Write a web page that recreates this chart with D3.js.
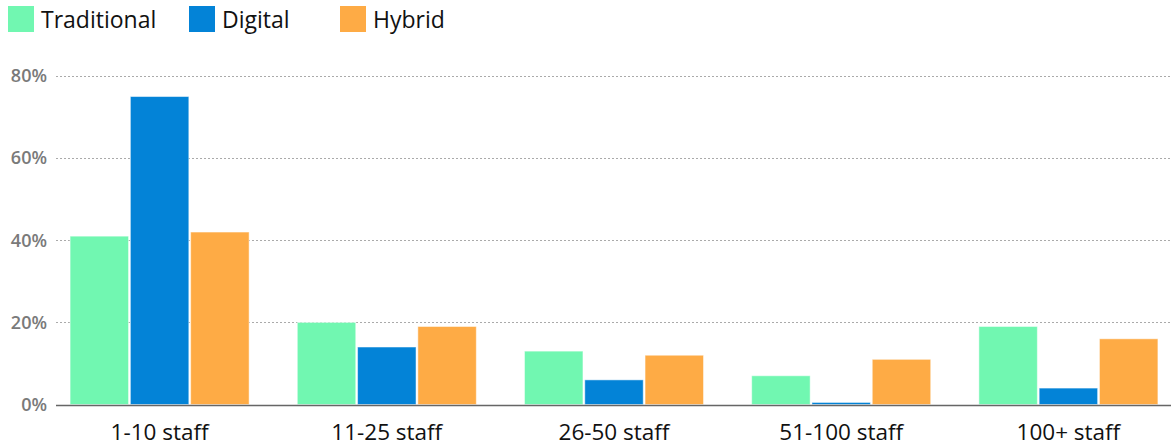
<!DOCTYPE html>
<html>
<head>
<meta charset="utf-8">
<script src="https://cdn.jsdelivr.net/npm/d3@7"></script>
<style>
  body { margin: 0; background: #fff; }
  svg { display: block; font-family: "Open Sans", Lato, sans-serif; }
</style>
</head>
<body>
<div id="chart"></div>
<script>
const categories = ["1-10 staff", "11-25 staff", "26-50 staff", "51-100 staff", "100+ staff"];
const seriesNames = ["Traditional", "Digital", "Hybrid"];
const traditional = [41, 20, 13, 7, 19];
const digital = [75, 14, 6, 0.5, 4];
const hybrid = [42, 19, 12, 11, 16];
const yTicks = [0, 20, 40, 60, 80];
const colors = ["#71f7b1", "#0383d7", "#feab45"];

const width = 1171, height = 447;
const margin = {top: 76, left: 56, bottom: 42, right: -1};

const series = [traditional, digital, hybrid];

const svg = d3.select("#chart").append("svg")
    .attr("width", width)
    .attr("height", height);

const y = d3.scaleLinear()
    .domain([0, 80])
    .range([height - margin.bottom - 0.5, margin.top]);

const x0 = d3.scaleBand()
    .domain(categories)
    .range([margin.left, width - margin.right])
    .paddingInner(0.212)
    .paddingOuter(0.062);

const x1 = d3.scaleBand()
    .domain(seriesNames)
    .range([0, x0.bandwidth()])
    .paddingInner(0.03);

// gridlines
svg.append("g")
  .selectAll("line")
  .data(yTicks.filter(d => d > 0))
  .enter().append("line")
    .attr("x1", margin.left)
    .attr("x2", width)
    .attr("y1", d => Math.round(y(d)) + 0.5)
    .attr("y2", d => Math.round(y(d)) + 0.5)
    .attr("stroke", "#aaa")
    .attr("stroke-width", 1)
    .attr("stroke-dasharray", "2,2");

// y tick labels
svg.append("g")
  .selectAll("text")
  .data(yTicks)
  .enter().append("text")
    .attr("x", 47)
    .attr("y", d => y(d))
    .attr("dy", "0.35em")
    .attr("text-anchor", "end")
    .attr("fill", "#7a7a7a")
    .attr("font-size", 18)
    .attr("font-weight", 600)
    .text(d => d + "%");

// bars
const groups = svg.append("g")
  .selectAll("g")
  .data(categories)
  .enter().append("g")
    .attr("transform", d => `translate(${x0(d)},0)`);

groups.selectAll("rect")
  .data((d, i) => seriesNames.map((s, j) => ({s, j, v: series[j][i]})))
  .enter().append("rect")
    .attr("x", d => x1(d.s))
    .attr("width", x1.bandwidth())
    .attr("y", d => y(d.v))
    .attr("height", d => y(0) - y(d.v))
    .attr("fill", d => colors[d.j])
    .attr("stroke", "#fff")
    .attr("stroke-opacity", 0.5)
    .attr("stroke-width", 1);

// baseline axis
svg.append("line")
    .attr("x1", margin.left)
    .attr("x2", width)
    .attr("y1", Math.round(y(0)) + 0.5)
    .attr("y2", Math.round(y(0)) + 0.5)
    .attr("stroke", "#666")
    .attr("stroke-width", 1.5);

// x labels
svg.append("g")
  .selectAll("text")
  .data(categories)
  .enter().append("text")
    .attr("x", d => x0(d) + x0.bandwidth() / 2)
    .attr("y", 440)
    .attr("text-anchor", "middle")
    .attr("fill", "#111")
    .attr("font-size", 22.5)
    .text(d => d);

// legend
const legendX = [8, 189, 340];
const legend = svg.append("g")
  .selectAll("g")
  .data(seriesNames)
  .enter().append("g")
    .attr("transform", (d, i) => `translate(${legendX[i]},6)`);

legend.append("rect")
    .attr("width", 26)
    .attr("height", 26)
    .attr("fill", (d, i) => colors[i]);

legend.append("text")
    .attr("x", 33)
    .attr("y", 21.5)
    .attr("fill", "#111")
    .attr("font-size", 23)
    .text(d => d);
</script>
</body>
</html>
